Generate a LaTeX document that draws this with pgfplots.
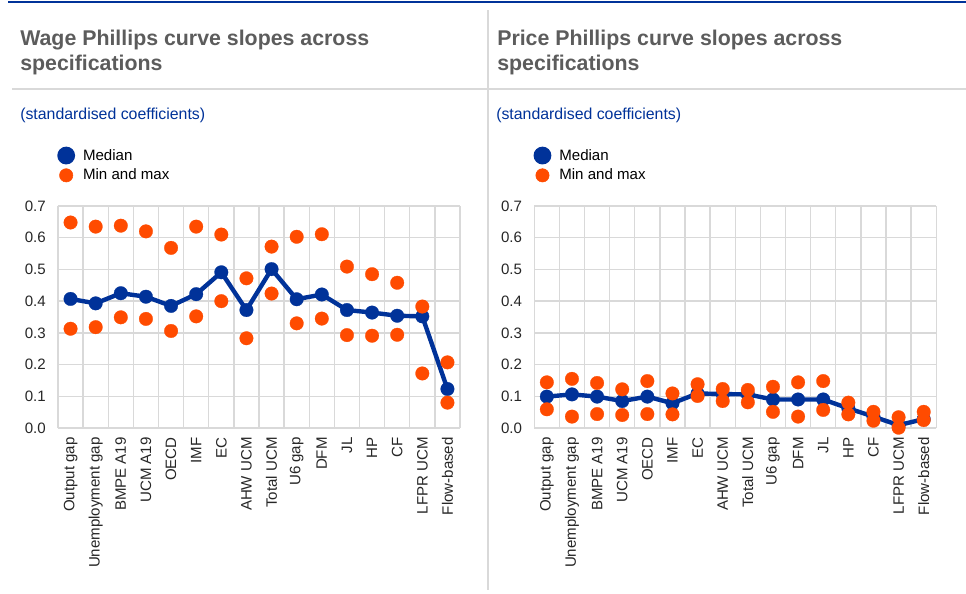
\documentclass[border=0pt]{standalone}
\usepackage{fontspec}
\setmainfont{Liberation Sans}
\usepackage{pgfplots}
\usepackage{pgfplotstable}
\pgfplotsset{compat=1.18}

\definecolor{ecbblue}{HTML}{003299}
\definecolor{ecborange}{HTML}{FF4B00}
\definecolor{gridgray}{HTML}{D9D9D9}
\definecolor{titlegray}{HTML}{5C5C5C}

% wage Phillips curve slopes
\pgfplotstableread{
x med mx mn
0  0.407 0.648 0.313
1  0.393 0.635 0.318
2  0.425 0.638 0.349
3  0.414 0.620 0.344
4  0.385 0.568 0.306
5  0.422 0.635 0.352
6  0.491 0.610 0.400
7  0.372 0.472 0.283
8  0.501 0.572 0.424
9  0.406 0.603 0.330
10 0.421 0.611 0.345
11 0.372 0.509 0.293
12 0.364 0.485 0.291
13 0.354 0.458 0.294
14 0.352 0.383 0.172
15 0.123 0.207 0.080
}\wagedata

% price Phillips curve slopes
\pgfplotstableread{
x med mx mn
0  0.099 0.144 0.059
1  0.106 0.155 0.036
2  0.099 0.142 0.044
3  0.085 0.122 0.041
4  0.099 0.148 0.044
5  0.078 0.109 0.043
6  0.109 0.138 0.101
7  0.107 0.123 0.085
8  0.106 0.120 0.081
9  0.090 0.130 0.051
10 0.090 0.144 0.036
11 0.090 0.148 0.057
12 0.062 0.080 0.043
13 0.036 0.051 0.023
14 0.009 0.034 0.001
15 0.028 0.051 0.025
}\pricedata

\newcommand{\lblfont}{\fontsize{11.3}{13}\selectfont}
\newcommand{\subfont}{\fontsize{11.9}{14}\selectfont}
\newcommand{\ttlfont}{\fontsize{16}{19}\selectfont\bfseries}

\pgfplotsset{
  phillips/.style={
    scale only axis, width=301.5pt, height=166.5pt,
    xmin=-0.5, xmax=15.5, ymin=0, ymax=0.7,
    xtick={0,...,15},
    xticklabels={Output gap,Unemployment gap,BMPE A19,UCM A19,OECD,IMF,EC,AHW UCM,Total UCM,U6 gap,DFM,JL,HP,CF,LFPR UCM,Flow-based},
    minor xtick={-0.5,0.5,...,15.5},
    ytick={0,0.1,0.2,0.3,0.4,0.5,0.6,0.7},
    ymajorgrids, xminorgrids,
    major grid style={gridgray, line width=1pt},
    minor grid style={gridgray, line width=1pt},
    axis line style={draw=none},
    major tick length=0pt, minor tick length=0pt,
    tick label style={font=\lblfont, text=black!85, /pgf/number format/assume math mode=true},
    yticklabel style={/pgf/number format/.cd, fixed, fixed zerofill, precision=1, /tikz/.cd, anchor=east, inner sep=0pt},
    yticklabel shift=9pt,
    xticklabel style={rotate=90, anchor=east, inner sep=0pt},
    xticklabel shift=6.75pt,
    clip=false,
    legend cell align=left,
    legend style={draw=none, fill=none, inner sep=0pt, outer sep=0pt,
      at={(0,1)}, anchor=north west, yshift=44.5pt, xshift=-0.5pt,
      column sep=6pt, row sep=3pt,
      nodes={inner sep=0pt, font=\lblfont}},
  },
  median/.style={ecbblue, line width=3.3pt, mark=*, mark size=5.1pt,
    mark options={solid, line width=0.2pt, draw=ecbblue, fill=ecbblue},
    legend image code/.code={\fill[ecbblue] (5pt,0pt) circle (5pt);}},
  range/.style={ecborange, only marks, mark=*, mark size=5.1pt,
    mark options={solid, line width=0.2pt, draw=ecborange, fill=ecborange},
    legend image code/.code={\fill[ecborange] (5pt,0pt) circle (5pt);}},
}

\begin{document}
\begin{tikzpicture}
\useasboundingbox (0pt,0pt) rectangle (724.5pt,-444.75pt);

\begin{scope}[x=0.75pt, y=-0.75pt]
  \fill[ecbblue] (8,0.5) rectangle (966,3);
  \draw[gridgray, line width=1.1pt] (488,10) -- (488,590);
  \draw[gridgray, line width=1.1pt] (12,89) -- (966,89);

  \node[anchor=base west, inner sep=0pt, font=\ttlfont, text=titlegray] at (20,45) {Wage Phillips curve slopes across};
  \node[anchor=base west, inner sep=0pt, font=\ttlfont, text=titlegray] at (20,70.5) {specifications};
  \node[anchor=base west, inner sep=0pt, font=\subfont, text=ecbblue] at (20,119.5) {(standardised coefficients)};

  \node[anchor=base west, inner sep=0pt, font=\ttlfont, text=titlegray] at (497,45) {Price Phillips curve slopes across};
  \node[anchor=base west, inner sep=0pt, font=\ttlfont, text=titlegray] at (497,70.5) {specifications};
  \node[anchor=base west, inner sep=0pt, font=\subfont, text=ecbblue] at (496,119.5) {(standardised coefficients)};
\end{scope}

\begin{axis}[phillips, at={(43.5pt,-321pt)}, anchor=south west]
  \addplot[median] table[x=x, y=med] {\wagedata};
  \addlegendentry{Median}
  \addplot[range] table[x=x, y=mx] {\wagedata};
  \addlegendentry{Min and max}
  \addplot[range, forget plot] table[x=x, y=mn] {\wagedata};
\end{axis}

\begin{axis}[phillips, at={(400.7pt,-321pt)}, anchor=south west]
  \addplot[median] table[x=x, y=med] {\pricedata};
  \addlegendentry{Median}
  \addplot[range] table[x=x, y=mx] {\pricedata};
  \addlegendentry{Min and max}
  \addplot[range, forget plot] table[x=x, y=mn] {\pricedata};
\end{axis}
\end{tikzpicture}
\end{document}
